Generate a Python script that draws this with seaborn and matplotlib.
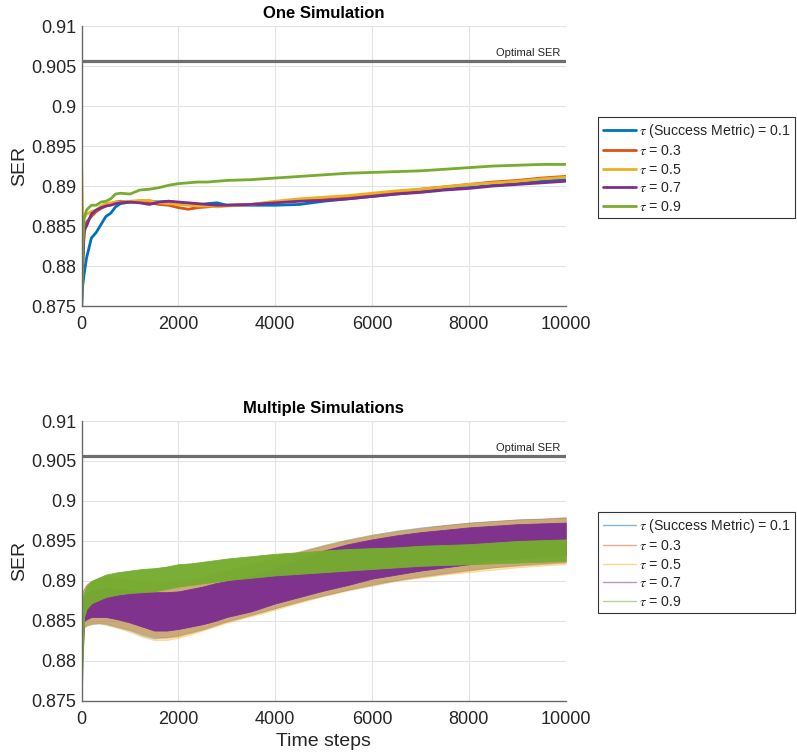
import numpy as np
import pandas as pd
import matplotlib
matplotlib.use("Agg")
import matplotlib.pyplot as plt
from matplotlib.lines import Line2D
from matplotlib.ticker import FuncFormatter
import seaborn as sns

# ---------------- data ----------------
labels = [r"$\tau$ (Success Metric) = 0.1", r"$\tau$ = 0.3", r"$\tau$ = 0.5",
          r"$\tau$ = 0.7", r"$\tau$ = 0.9"]
colors = ["#0072BD", "#D95319", "#EDB120", "#7E2F8E", "#77AC30"]
optimal_ser = 0.90566

# One simulation (top)
x_top = [0, 20, 50, 100, 200, 300, 400, 500, 600, 700, 800, 1000, 1200, 1400,
         1600, 1800, 2000, 2200, 2400, 2600, 2800, 3000, 3500, 4000, 4500, 5000,
         5500, 6000, 6500, 7000, 7500, 8000, 8500, 9000, 9500, 10000]
one_t01 = [0.8750, 0.8775, 0.8790, 0.8810, 0.8835, 0.8842, 0.8852, 0.8862, 0.8866,
           0.8874, 0.8878, 0.8880, 0.8881, 0.8881, 0.8880, 0.8881, 0.8879, 0.8877,
           0.8876, 0.8878, 0.8879, 0.8876, 0.8876, 0.8876, 0.8877, 0.8881, 0.8884,
           0.8887, 0.8890, 0.8893, 0.8896, 0.8898, 0.8901, 0.8903, 0.8906, 0.8908]
one_t03 = [0.8760, 0.8800, 0.8840, 0.8855, 0.8862, 0.8868, 0.8872, 0.8875, 0.8878,
           0.8880, 0.8881, 0.8880, 0.8880, 0.8879, 0.8877, 0.8876, 0.8873, 0.8871,
           0.8873, 0.8874, 0.8875, 0.8876, 0.8877, 0.8880, 0.8882, 0.8885, 0.8887,
           0.8890, 0.8893, 0.8896, 0.8899, 0.8902, 0.8905, 0.8907, 0.8910, 0.8912]
one_t05 = [0.8925, 0.8862, 0.8860, 0.8865, 0.8868, 0.8870, 0.8875, 0.8878, 0.8879,
           0.8880, 0.8880, 0.8881, 0.8882, 0.8882, 0.8879, 0.8878, 0.8877, 0.8876,
           0.8875, 0.8875, 0.8874, 0.8875, 0.8877, 0.8881, 0.8884, 0.8886, 0.8888,
           0.8891, 0.8894, 0.8896, 0.8899, 0.8902, 0.8904, 0.8906, 0.8909, 0.8911]
one_t07 = [0.8860, 0.8800, 0.8845, 0.8850, 0.8865, 0.8870, 0.8873, 0.8875, 0.8876,
           0.8878, 0.8879, 0.8880, 0.8879, 0.8877, 0.8880, 0.8881, 0.8880, 0.8879,
           0.8878, 0.8877, 0.8876, 0.8876, 0.8877, 0.8879, 0.8881, 0.8882, 0.8884,
           0.8887, 0.8890, 0.8892, 0.8895, 0.8897, 0.8900, 0.8902, 0.8904, 0.8906]
one_t09 = [0.8750, 0.8820, 0.8860, 0.8870, 0.8876, 0.8876, 0.8880, 0.8881, 0.8884,
           0.8890, 0.8891, 0.8890, 0.8895, 0.8896, 0.8898, 0.8901, 0.8903, 0.8904,
           0.8905, 0.8905, 0.8906, 0.8907, 0.8908, 0.8910, 0.8912, 0.8914, 0.8916,
           0.8917, 0.8918, 0.8919, 0.8921, 0.8923, 0.8925, 0.8926, 0.8927, 0.8927]

# Multiple simulations (bottom): spread of the runs (low / high) read per time step
x_bot = [0, 50, 100, 200, 350, 500, 750, 1000, 1250, 1500, 1750, 2000, 2250, 2500,
         2750, 3000, 3500, 4000, 4500, 5000, 5500, 6000, 6500, 7000, 7500, 8000,
         8500, 9000, 9500, 10000]
multi_t01_lo = [0.8790, 0.8842, 0.8844, 0.8846, 0.8847, 0.8846, 0.8842, 0.8838, 0.8832,
                0.8828, 0.8830, 0.8832, 0.8836, 0.8840, 0.8845, 0.8850, 0.8858, 0.8866,
                0.8875, 0.8882, 0.8889, 0.8895, 0.8901, 0.8906, 0.8910, 0.8914, 0.8917,
                0.8920, 0.8922, 0.8924]
multi_t01_hi = [0.8885, 0.8890, 0.8895, 0.8900, 0.8904, 0.8906, 0.8904, 0.8902, 0.8900,
                0.8899, 0.8899, 0.8900, 0.8903, 0.8906, 0.8910, 0.8914, 0.8921, 0.8929,
                0.8937, 0.8945, 0.8952, 0.8958, 0.8963, 0.8967, 0.8970, 0.8973, 0.8975,
                0.8977, 0.8978, 0.8979]
multi_t03_lo = [0.8790, 0.8843, 0.8845, 0.8847, 0.8848, 0.8847, 0.8843, 0.8839, 0.8834,
                0.8830, 0.8829, 0.8831, 0.8835, 0.8839, 0.8844, 0.8849, 0.8857, 0.8866,
                0.8874, 0.8882, 0.8889, 0.8896, 0.8901, 0.8905, 0.8909, 0.8913, 0.8917,
                0.8919, 0.8921, 0.8923]
multi_t03_hi = [0.8885, 0.8891, 0.8896, 0.8900, 0.8903, 0.8905, 0.8903, 0.8901, 0.8899,
                0.8898, 0.8898, 0.8900, 0.8902, 0.8905, 0.8909, 0.8913, 0.8920, 0.8928,
                0.8936, 0.8944, 0.8951, 0.8957, 0.8962, 0.8966, 0.8970, 0.8973, 0.8975,
                0.8977, 0.8978, 0.8980]
multi_t05_lo = [0.8790, 0.8843, 0.8844, 0.8846, 0.8847, 0.8845, 0.8841, 0.8836, 0.8830,
                0.8826, 0.8826, 0.8829, 0.8833, 0.8838, 0.8843, 0.8848, 0.8856, 0.8864,
                0.8873, 0.8881, 0.8888, 0.8894, 0.8900, 0.8904, 0.8908, 0.8911, 0.8914,
                0.8917, 0.8919, 0.8921]
multi_t05_hi = [0.8885, 0.8890, 0.8894, 0.8899, 0.8903, 0.8905, 0.8903, 0.8901, 0.8899,
                0.8898, 0.8898, 0.8899, 0.8902, 0.8905, 0.8909, 0.8913, 0.8920, 0.8928,
                0.8937, 0.8945, 0.8952, 0.8958, 0.8962, 0.8966, 0.8969, 0.8972, 0.8974,
                0.8976, 0.8977, 0.8978]
multi_t07_lo = [0.8790, 0.8850, 0.8852, 0.8855, 0.8855, 0.8855, 0.8852, 0.8848, 0.8843,
                0.8838, 0.8838, 0.8840, 0.8843, 0.8846, 0.8850, 0.8855, 0.8862, 0.8872,
                0.8880, 0.8888, 0.8895, 0.8903, 0.8908, 0.8913, 0.8917, 0.8921, 0.8925,
                0.8928, 0.8930, 0.8932]
multi_t07_hi = [0.8880, 0.8880, 0.8885, 0.8888, 0.8890, 0.8892, 0.8890, 0.8888, 0.8886,
                0.8886, 0.8886, 0.8887, 0.8890, 0.8893, 0.8897, 0.8900, 0.8907, 0.8917,
                0.8927, 0.8938, 0.8946, 0.8952, 0.8957, 0.8961, 0.8964, 0.8967, 0.8969,
                0.8971, 0.8972, 0.8973]
multi_t09_lo = [0.8755, 0.8855, 0.8865, 0.8872, 0.8876, 0.8880, 0.8883, 0.8885, 0.8886,
                0.8887, 0.8890, 0.8893, 0.8895, 0.8897, 0.8899, 0.8901, 0.8904, 0.8907,
                0.8909, 0.8911, 0.8913, 0.8915, 0.8917, 0.8919, 0.8920, 0.8921, 0.8922,
                0.8923, 0.8924, 0.8925]
multi_t09_hi = [0.8875, 0.8885, 0.8893, 0.8900, 0.8904, 0.8908, 0.8911, 0.8913, 0.8915,
                0.8916, 0.8918, 0.8921, 0.8922, 0.8924, 0.8926, 0.8928, 0.8931, 0.8934,
                0.8936, 0.8938, 0.8940, 0.8941, 0.8942, 0.8944, 0.8945, 0.8946, 0.8948,
                0.8950, 0.8951, 0.8952]

x_ticks = [0, 2000, 4000, 6000, 8000, 10000]
y_ticks = [0.875, 0.88, 0.885, 0.89, 0.895, 0.9, 0.905, 0.91]

# ---------------- style ----------------
sns.set_theme(style="white")
plt.rcParams["font.family"] = ["Liberation Sans", "DejaVu Sans"]
plt.rcParams["mathtext.fontset"] = "stix"

one_series = [one_t01, one_t03, one_t05, one_t07, one_t09]
multi_lo = [multi_t01_lo, multi_t03_lo, multi_t05_lo, multi_t07_lo, multi_t09_lo]
multi_hi = [multi_t01_hi, multi_t03_hi, multi_t05_hi, multi_t07_hi, multi_t09_hi]
band_alpha = [0.32, 0.32, 0.32, 0.97, 0.97]

fig = plt.figure(figsize=(7.97, 7.53), dpi=100)
ax_top = fig.add_axes([0.1025, 0.5936, 0.6073, 0.3718])
ax_bot = fig.add_axes([0.1025, 0.0691, 0.6073, 0.3718])

# top panel
for lab, col, ys in zip(labels, colors, one_series):
    df = pd.DataFrame({"Time steps": x_top, "SER": ys})
    sns.lineplot(data=df, x="Time steps", y="SER", ax=ax_top, color=col,
                 linewidth=2.0, legend=False)

# bottom panel: band spanning the runs for every tau
for lab, col, lo, hi, a in zip(labels, colors, multi_lo, multi_hi, band_alpha):
    df = pd.DataFrame({"Time steps": x_bot + x_bot, "SER": lo + hi})
    sns.lineplot(data=df, x="Time steps", y="SER", ax=ax_bot, color=col,
                 linewidth=0, errorbar=("pi", 100),
                 err_kws={"alpha": a, "linewidth": 0.6, "edgecolor": col},
                 legend=False)

fmt = FuncFormatter(lambda v, p: "{:g}".format(round(v, 4)))
for ax, title in [(ax_top, "One Simulation"), (ax_bot, "Multiple Simulations")]:
    ax.axhline(optimal_ser, color="#6e6e6e", linewidth=2.3, zorder=5)
    ax.text(9890, optimal_ser + 0.0004, "Optimal SER", ha="right", va="bottom",
            fontsize=8, color="#262626")
    ax.set_xlim(0, 10000)
    ax.set_ylim(0.875, 0.91)
    ax.set_xticks(x_ticks)
    ax.set_yticks(y_ticks)
    ax.yaxis.set_major_formatter(fmt)
    ax.grid(True, color="#e3e3e3", linewidth=0.8)
    ax.set_axisbelow(True)
    for s in ["top", "right"]:
        ax.spines[s].set_visible(False)
    for s in ["left", "bottom"]:
        ax.spines[s].set_color("#6a6a6a")
        ax.spines[s].set_linewidth(1.0)
    ax.tick_params(axis="both", direction="in", length=4, width=0.8,
                   color="#6a6a6a", labelsize=13, labelcolor="#262626")
    ax.tick_params(axis="y", pad=4)
    ax.tick_params(axis="x", pad=7)
    ax.set_title(title, fontsize=12, fontweight="bold", pad=6, color="black")
    ax.set_ylabel("SER", fontsize=14, color="#262626", labelpad=2)
    ax.set_xlabel("")

ax_bot.set_xlabel("Time steps", fontsize=14, color="#262626", labelpad=4)

# legends
h_top = [Line2D([0], [0], color=c, linewidth=2.0) for c in colors]
h_bot = [Line2D([0], [0], color=c, linewidth=1.0, alpha=0.5) for c in colors]
for handles, y in [(h_top, 0.8446), (h_bot, 0.3200)]:
    leg = fig.legend(handles, labels, loc="upper left", bbox_to_anchor=(0.7503, y),
                     fontsize=10.2, frameon=True, fancybox=False, framealpha=1,
                     edgecolor="#333333", borderpad=0.32, labelspacing=0.32,
                     handlelength=2.35, handletextpad=0.2, borderaxespad=0)
    leg.get_frame().set_linewidth(0.8)
    for t in leg.get_texts():
        t.set_color("#262626")

fig.savefig("out.png", dpi=100)
